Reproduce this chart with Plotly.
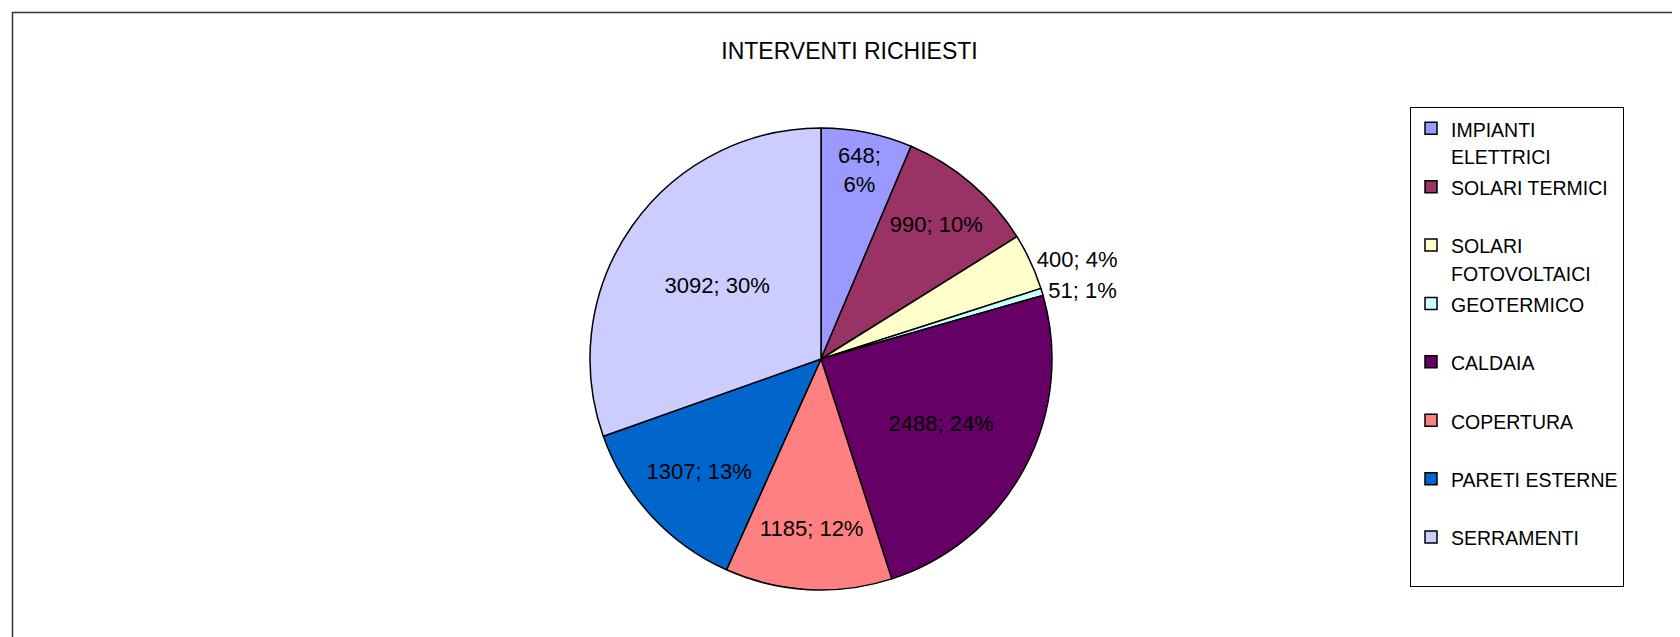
import plotly.graph_objects as go

categories = ["IMPIANTI ELETTRICI", "SOLARI TERMICI", "SOLARI FOTOVOLTAICI", "GEOTERMICO",
              "CALDAIA", "COPERTURA", "PARETI ESTERNE", "SERRAMENTI"]
values = [648, 990, 400, 51, 2488, 1185, 1307, 3092]
colors = ["#9999FF", "#993366", "#FFFFCC", "#CCFFFF", "#660066", "#FF8080", "#0066CC", "#CCCCFF"]
legend_lines = [["IMPIANTI", "ELETTRICI"], ["SOLARI TERMICI"], ["SOLARI", "FOTOVOLTAICI"], ["GEOTERMICO"],
                ["CALDAIA"], ["COPERTURA"], ["PARETI ESTERNE"], ["SERRAMENTI"]]
title_text = "INTERVENTI RICHIESTI"

# The page body has an 8px default margin; the figure starts at page (8, 8)
# and is sized to reach the window's right and bottom edges.
BODY = 8
FW, FH = 1680 - BODY, 637 - BODY
FONT = "Liberation Sans, Arial, sans-serif"


def fx(X):  # page x -> paper fraction
    return (X - BODY) / FW


def fy(Y):  # page y -> paper fraction
    return 1 - (Y - BODY) / FH


def legend_label(lines):
    parts = ['<span style="font-size:19.5px">%s</span>' % l for l in lines]
    while len(parts) < 2:
        parts.append(" ")
    return "<br>".join(parts)


labels = [legend_label(l) for l in legend_lines]
texttemplates = ["%{value};<br>%{percent:.0%}"] + ["%{value}; %{percent:.0%}"] * 7
textpos = ["inside", "inside", "outside", "outside", "inside", "inside", "inside", "inside"]

cx, cy, r = 821, 359, 231

fig = go.Figure(go.Pie(
    labels=labels,
    values=values,
    sort=False,
    direction="clockwise",
    rotation=0,
    marker=dict(colors=colors, line=dict(color="black", width=1.5)),
    texttemplate=texttemplates,
    textposition=textpos,
    insidetextorientation="horizontal",
    textfont=dict(family=FONT, size=22, color="black"),
    insidetextfont=dict(family=FONT, size=22, color="black"),
    outsidetextfont=dict(family=FONT, size=22, color="black"),
    domain=dict(x=[fx(cx - r), fx(cx + r)], y=[fy(cy + r), fy(cy - r)]),
    hoverinfo="skip",
))

fig.update_layout(
    width=FW, height=FH,
    margin=dict(l=0, r=0, t=0, b=0),
    paper_bgcolor="white",
    plot_bgcolor="white",
    font=dict(family=FONT, color="black"),
    title=dict(text=title_text, font=dict(family=FONT, size=23, color="black"),
               xref="paper", yref="paper", x=fx(849.5), xanchor="center",
               y=fy(51), yanchor="middle"),
    showlegend=True,
    legend=dict(
        x=fx(1410), xanchor="left", y=fy(107), yanchor="top",
        font=dict(family=FONT, size=21.3, color="black"),
        bgcolor="white", bordercolor="black", borderwidth=1,
        valign="top", traceorder="normal",
    ),
    shapes=[dict(type="rect", xref="paper", yref="paper",
                 x0=fx(12.5), x1=1.05, y0=-0.05, y1=fy(12.5),
                 line=dict(color="#333333", width=1.5), fillcolor="rgba(0,0,0,0)", layer="above")],
)

fig.write_html("out.html")
